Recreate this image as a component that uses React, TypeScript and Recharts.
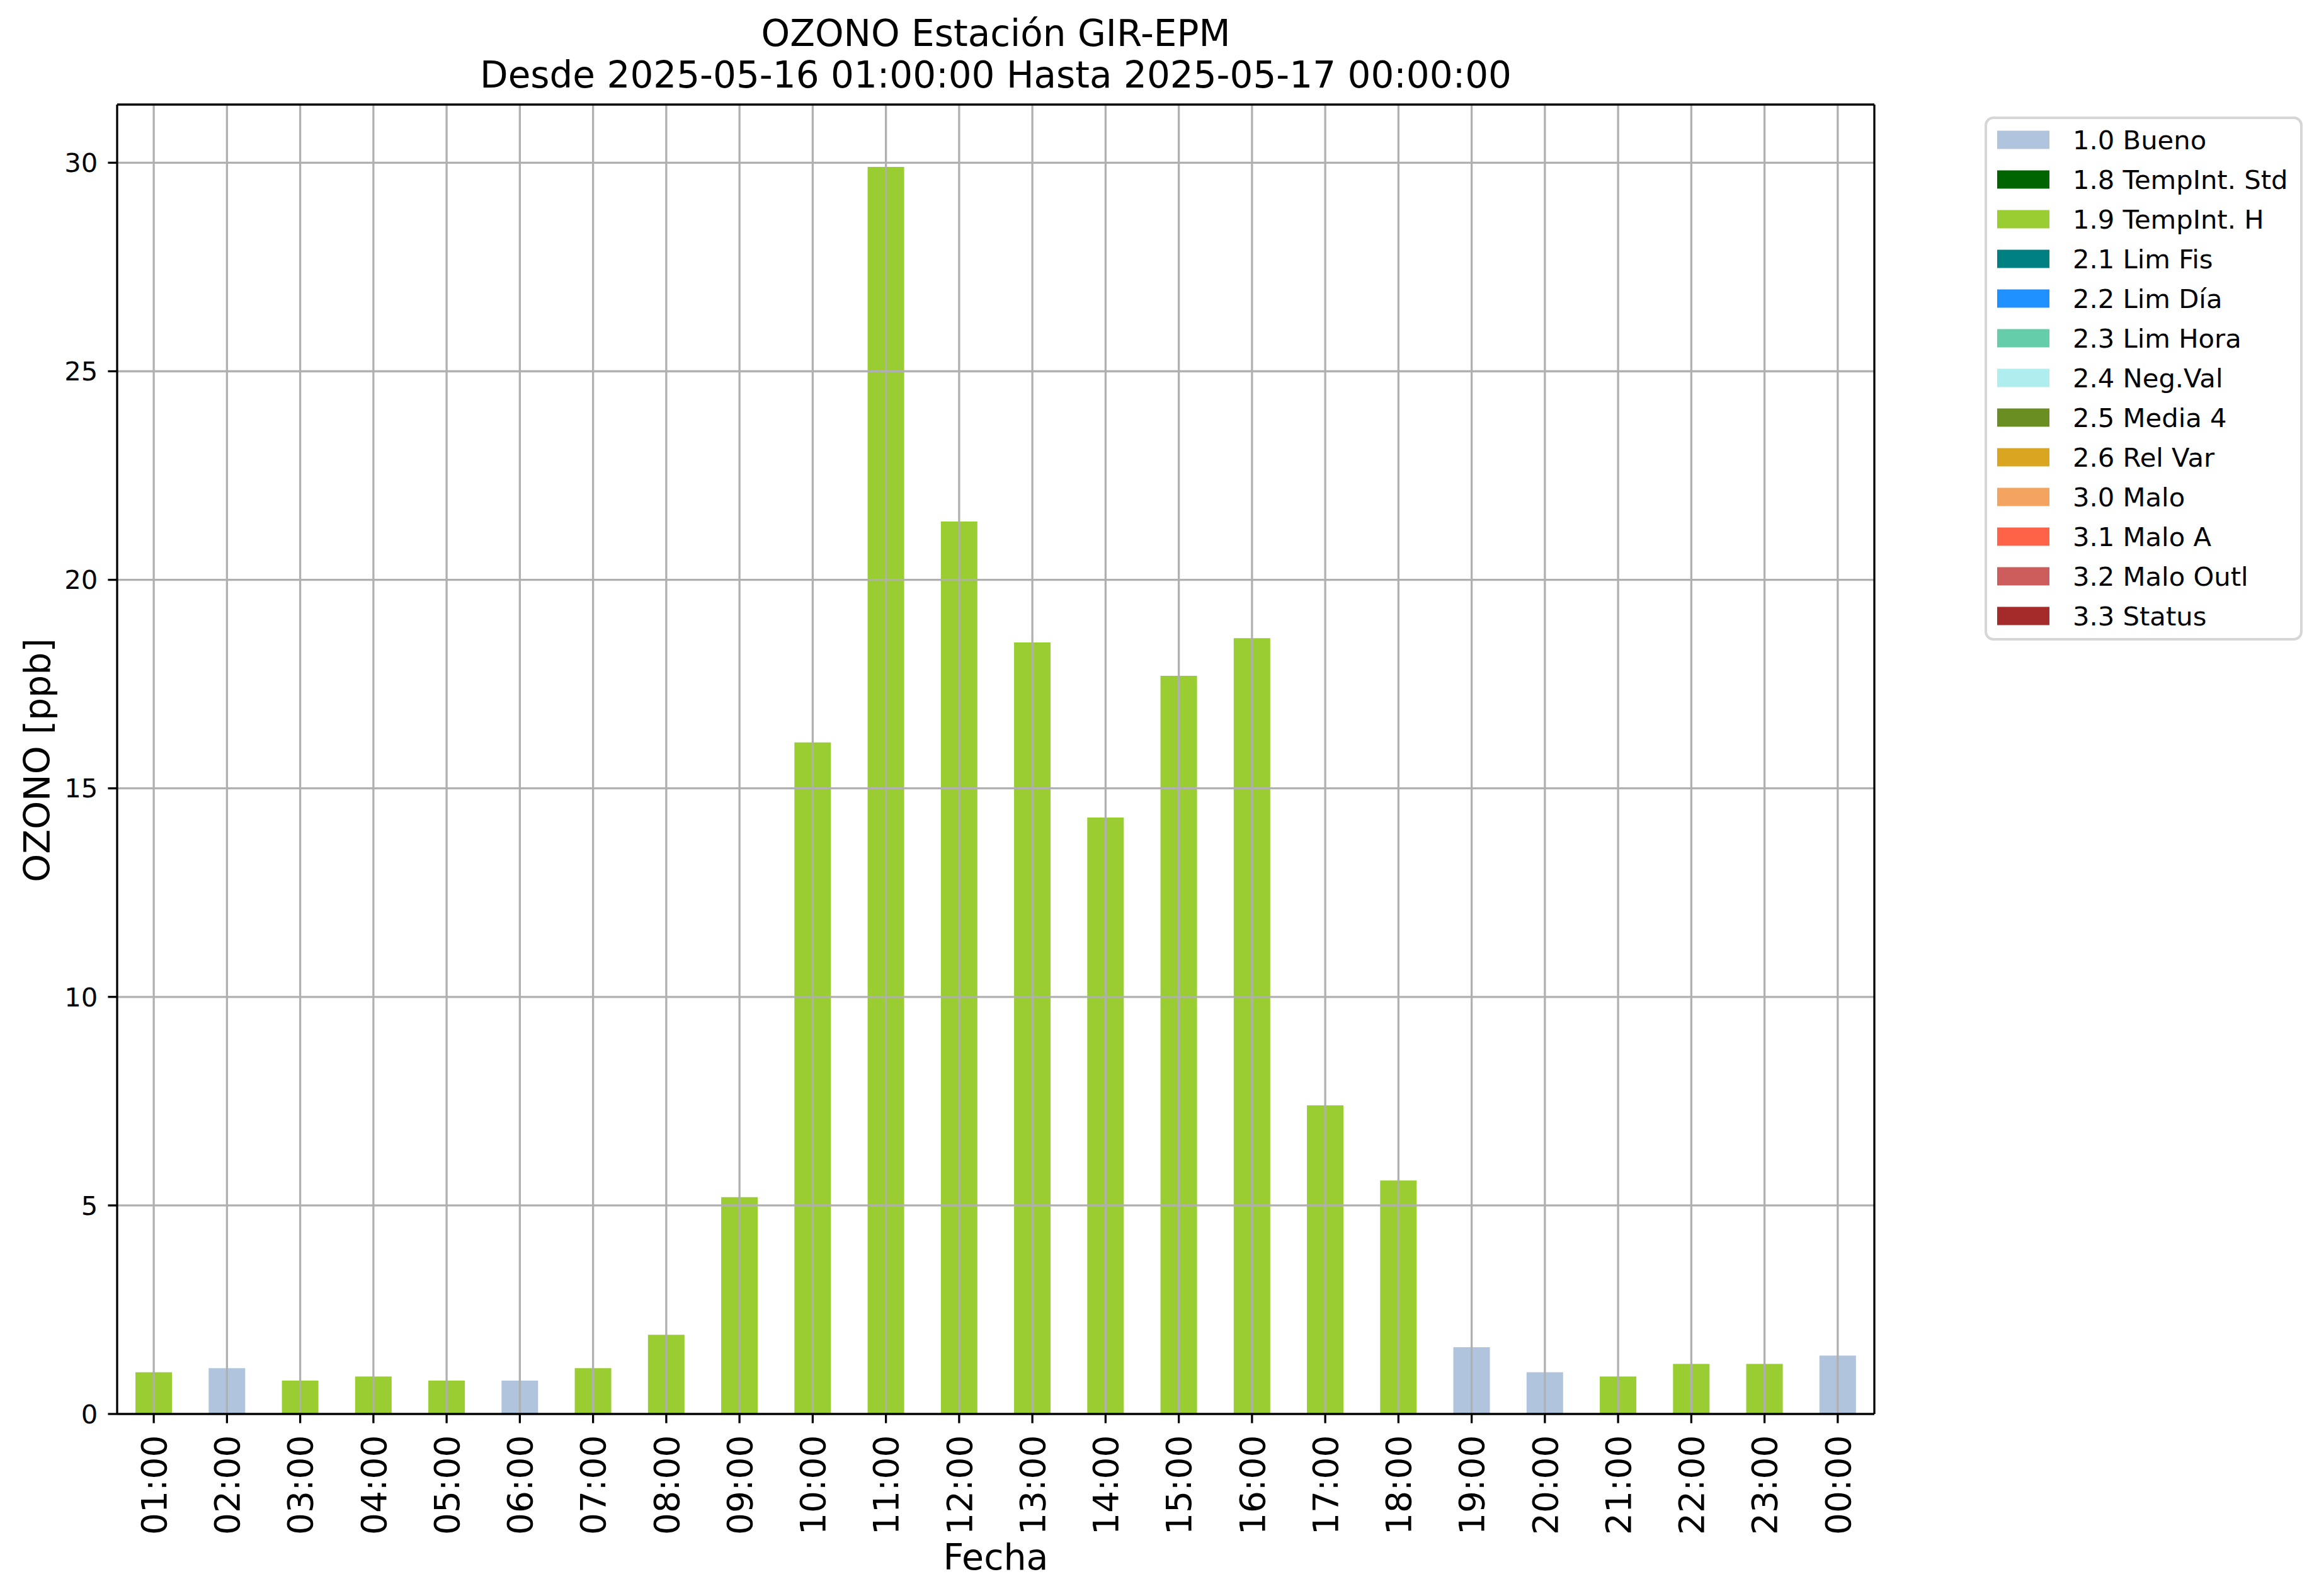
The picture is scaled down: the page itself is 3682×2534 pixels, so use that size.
import React from 'react';
import { BarChart, Bar, XAxis, YAxis, Cell, ReferenceLine } from 'recharts';

const hours = ['01:00','02:00','03:00','04:00','05:00','06:00','07:00','08:00','09:00','10:00','11:00','12:00','13:00','14:00','15:00','16:00','17:00','18:00','19:00','20:00','21:00','22:00','23:00','00:00'];
const ozone = [1.0,1.1,0.8,0.9,0.8,0.8,1.1,1.9,5.2,16.1,29.9,21.4,18.5,14.3,17.7,18.6,7.4,5.6,1.6,1.0,0.9,1.2,1.2,1.4];
const flags = ['1.9','1.0','1.9','1.9','1.9','1.0','1.9','1.9','1.9','1.9','1.9','1.9','1.9','1.9','1.9','1.9','1.9','1.9','1.0','1.0','1.9','1.9','1.9','1.0'];
const yTicks = [0,5,10,15,20,25,30];
const legendCodes = ['1.0','1.8','1.9','2.1','2.2','2.3','2.4','2.5','2.6','3.0','3.1','3.2','3.3'];
const legendLabels = ['1.0 Bueno','1.8 TempInt. Std','1.9 TempInt. H','2.1 Lim Fis','2.2 Lim Día','2.3 Lim Hora','2.4 Neg.Val','2.5 Media 4','2.6 Rel Var','3.0 Malo','3.1 Malo A','3.2 Malo Outl','3.3 Status'];
const legendColors = ['#B0C4DE','#006400','#9ACD32','#008080','#1E90FF','#66CDAA','#AFEEEE','#6B8E23','#DAA520','#F4A460','#FF6347','#CD5C5C','#A52A2A'];
const title1 = 'OZONO Estación GIR-EPM';
const title2 = 'Desde 2025-05-16 01:00:00 Hasta 2025-05-17 00:00:00';
const xLabel = 'Fecha';
const yLabel = 'OZONO [ppb]';

const colorFor = (f: string) => legendColors[legendCodes.indexOf(f)];
const data = hours.map((h, i) => ({ hour: h, value: ozone[i], flag: flags[i] }));

const FONT = 'DejaVu Sans';
const GRID = '#b0b0b0';
const LW = 3.3;

const RotTick = (props: any) => {
  const { x, y, payload } = props;
  return (
    <text x={x} y={y} transform={`rotate(-90 ${x} ${y})`} textAnchor="end" dy="0.36em"
      fontFamily={FONT} fontSize={55} fill="#000">{payload.value}</text>
  );
};

export default function App() {
  const lgLeft = 3153, lgTop = 187, lgW = 501, lgH = 828;
  return (
    <div style={{ position: 'absolute', left: 0, top: 0, width: 3682, height: 2534, background: '#fff' }}>
      <BarChart width={3682} height={2534} data={data}
        margin={{ top: 165, right: 705, bottom: 89, left: 86 }} barCategoryGap="25%">
        <XAxis dataKey="hour" height={200} interval={0} tickSize={14.6} tickMargin={19}
          tick={<RotTick />} axisLine={{ stroke: '#000', strokeWidth: LW }} tickLine={{ stroke: '#000', strokeWidth: LW }} />
        <XAxis xAxisId="top" orientation="top" dataKey="hour" height={1} tick={false} tickLine={false}
          axisLine={{ stroke: '#000', strokeWidth: LW }} />
        <YAxis type="number" domain={[0, 31.395]} ticks={yTicks} width={100} tickSize={14.6} tickMargin={16}
          tick={{ fontFamily: FONT, fontSize: 41.7, fill: '#000' }}
          axisLine={{ stroke: '#000', strokeWidth: LW }} tickLine={{ stroke: '#000', strokeWidth: LW }} />
        <YAxis yAxisId="right" orientation="right" type="number" domain={[0, 31.395]} width={1} tick={false} tickLine={false}
          axisLine={{ stroke: '#000', strokeWidth: LW }} />
        <Bar dataKey="value" isAnimationActive={false}>
          {data.map((d, i) => <Cell key={i} fill={colorFor(d.flag)} />)}
        </Bar>
        {yTicks.filter(t => t > 0).map(t => (
          <ReferenceLine key={'y' + t} y={t} stroke={GRID} strokeWidth={LW} />
        ))}
        {hours.map(h => (
          <ReferenceLine key={'x' + h} x={h} stroke={GRID} strokeWidth={LW} />
        ))}
      </BarChart>
      <svg width={3682} height={2534} style={{ position: 'absolute', left: 0, top: 0, pointerEvents: 'none' }}>
        <text x={1581} y={73} textAnchor="middle" fontFamily={FONT} fontSize={58} fill="#000">{title1}</text>
        <text x={1581} y={139} textAnchor="middle" fontFamily={FONT} fontSize={58} fill="#000">{title2}</text>
        <text x={1581} y={2492} textAnchor="middle" fontFamily={FONT} fontSize={57} fill="#000">{xLabel}</text>
        <text x={58} y={1207} transform="rotate(-90 58 1207)" textAnchor="middle" dy="0.36em" fontFamily={FONT} fontSize={57} fill="#000">{yLabel}</text>
        <rect x={lgLeft} y={lgTop} width={lgW} height={lgH} rx={12} ry={12} fill="#fff" stroke="#d6d6d6" strokeWidth={4} />
        {legendLabels.map((lab, i) => (
          <g key={lab}>
            <rect x={3171} y={222 + 63 * i - 14.5} width={83} height={29} fill={legendColors[i]} />
            <text x={3291} y={222 + 63 * i} dy="0.36em" fontFamily={FONT} fontSize={41.7} fill="#000">{lab}</text>
          </g>
        ))}
      </svg>
    </div>
  );
}
